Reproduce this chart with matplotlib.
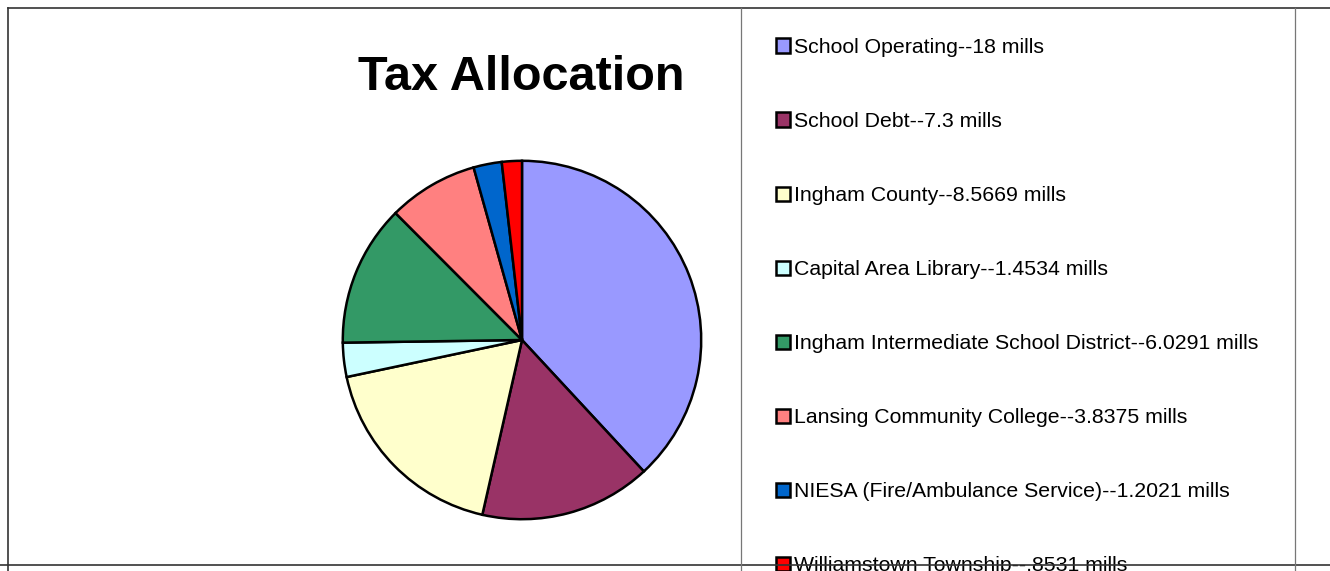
import matplotlib.pyplot as plt
from matplotlib.lines import Line2D

plt.rcParams['font.family'] = ['Liberation Sans', 'DejaVu Sans']

# Tax allocation data (mills)
labels = ['School Operating--18 mills',
          'School Debt--7.3 mills',
          'Ingham County--8.5669 mills',
          'Capital Area Library--1.4534 mills',
          'Ingham Intermediate School District--6.0291 mills',
          'Lansing Community College--3.8375 mills',
          'NIESA (Fire/Ambulance Service)--1.2021 mills',
          'Williamstown Township--.8531 mills']
mills = [18, 7.3, 8.5669, 1.4534, 6.0291, 3.8375, 1.2021, 0.8531]
colors = ['#9999FF', '#993366', '#FFFFCC', '#CCFFFF',
          '#339966', '#FF8080', '#0066CC', '#FF0000']

W, H = 1330, 571
fig = plt.figure(figsize=(W / 100, H / 100), dpi=100)

# pie axes: centre ~(522, 340) px, radius ~181 px
ax = fig.add_axes([341 / W, 1 - 521 / H, 362 / W, 362 / H])
wedges, _ = ax.pie(mills, colors=colors, startangle=90, counterclock=False,
                   radius=1, wedgeprops=dict(edgecolor='black', linewidth=1.8))
ax.set_xlim(-1.01, 1.01)
ax.set_ylim(-1.01, 1.01)
ax.set_aspect('equal')
ax.axis('off')

fig.text(521 / W, 1 - 77 / H, 'Tax Allocation', ha='center', va='center',
         fontsize=35, fontweight='bold')

leg = fig.legend(wedges, labels, loc='upper left',
                 bbox_to_anchor=(776 / W, 1 - 38 / H),
                 frameon=False, fontsize=15.3, labelspacing=2.59,
                 handlelength=0.65, handleheight=0.65, handletextpad=0.22,
                 borderpad=0, borderaxespad=0)

# page / cell border lines
def fline(x0, y0, x1, y1, color='#333333', lw=1.2):
    fig.add_artist(Line2D([x0 / W, x1 / W], [1 - y0 / H, 1 - y1 / H],
                          transform=fig.transFigure, color=color, lw=lw,
                          zorder=10))

fline(8, 8, W, 8)
fline(8, 8, 8, H)
fline(0, 565, W, 565)
fline(741, 8, 741, H, color='#777777', lw=0.9)
fline(1295, 8, 1295, H, color='#777777', lw=0.9)

plt.savefig('out.png', dpi=100)
